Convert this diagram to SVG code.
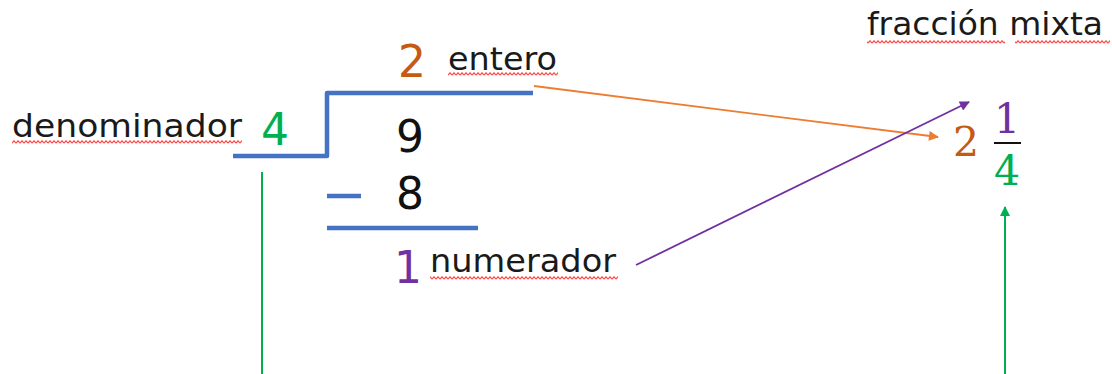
<svg xmlns="http://www.w3.org/2000/svg" width="1112" height="374" viewBox="0 0 1112 374">
  <style>
    .word { font-family: "DejaVu Sans", "Liberation Sans", sans-serif; font-size: 32px; fill: #1a1a1a; }
    .num { font-family: "DejaVu Sans", "Liberation Sans", sans-serif; font-size: 44px; }
    .frac { font-family: "DejaVu Serif", "Liberation Serif", serif; font-size: 41px; }
    .rule { stroke: #4472C4; stroke-width: 4.5; fill: none; stroke-linejoin: round; }
    .squiggle { fill: url(#wave); }
    .green { fill: #00B050; }
    .orange { fill: #C55A11; }
    .purple { fill: #7030A0; }
  </style>
  <defs>
    <pattern id="wave" width="4" height="4" patternUnits="userSpaceOnUse">
      <path d="M0 3.2 L2 0.8 L4 3.2" fill="none" stroke="#FF4848" stroke-width="1.2"/>
    </pattern>
    <marker id="head-orange" viewBox="0 0 10 10" refX="9" refY="5" markerWidth="12" markerHeight="10" markerUnits="userSpaceOnUse" orient="auto">
      <path d="M0 0 L10 5 L0 10 Z" fill="#ED7D31"/>
    </marker>
    <marker id="head-purple" viewBox="0 0 10 10" refX="9" refY="5" markerWidth="12" markerHeight="10" markerUnits="userSpaceOnUse" orient="auto">
      <path d="M0 0 L10 5 L0 10 Z" fill="#7030A0"/>
    </marker>
    <marker id="head-green" viewBox="0 0 10 10" refX="9" refY="5" markerWidth="12" markerHeight="10" markerUnits="userSpaceOnUse" orient="auto">
      <path d="M0 0 L10 5 L0 10 Z" fill="#00B050"/>
    </marker>
  </defs>

  <!-- long division frame -->
  <g id="division">
    <polyline class="rule" points="233,156 327,156 327,93 533,93"/>
    <line class="rule" x1="327" y1="196" x2="361" y2="196"/>
    <line class="rule" x1="327" y1="228" x2="478" y2="228"/>
    <text class="num" x="396" y="152" fill="#111">9</text>
    <text class="num" x="396" y="209" fill="#111">8</text>
  </g>

  <g id="denominador">
    <text class="word" x="12" y="137" textLength="230" lengthAdjust="spacingAndGlyphs">denominador</text>
    <rect class="squiggle" x="12" y="140" width="230" height="4"/>
    <text class="num green" x="261" y="145">4</text>
  </g>

  <g id="entero">
    <text class="num orange" x="398" y="77">2</text>
    <text class="word" x="448" y="70" textLength="109" lengthAdjust="spacingAndGlyphs">entero</text>
    <rect class="squiggle" x="448" y="72" width="110" height="4"/>
  </g>

  <g id="numerador">
    <text class="num purple" x="394" y="283">1</text>
    <text class="word" x="430" y="272" textLength="186" lengthAdjust="spacingAndGlyphs">numerador</text>
    <rect class="squiggle" x="430" y="276" width="188" height="4"/>
  </g>

  <g id="fraccion-mixta">
    <text class="word" x="867" y="35" textLength="236" lengthAdjust="spacingAndGlyphs">fracción mixta</text>
    <rect class="squiggle" x="867" y="40" width="138" height="4"/>
    <rect class="squiggle" x="1015" y="40" width="95" height="4"/>
    <text class="frac orange" x="953" y="156">2</text>
    <text class="frac purple" x="1007" y="133" text-anchor="middle">1</text>
    <line x1="994" y1="143" x2="1021" y2="143" stroke="#111" stroke-width="2"/>
    <text class="frac green" x="1007" y="185" text-anchor="middle">4</text>
  </g>

  <!-- connectors -->
  <g id="connectors" fill="none">
    <line x1="534" y1="86" x2="938" y2="137" stroke="#ED7D31" stroke-width="1.8" marker-end="url(#head-orange)"/>
    <line x1="636" y1="265" x2="969" y2="102" stroke="#7030A0" stroke-width="1.8" marker-end="url(#head-purple)"/>
    <line x1="262" y1="172" x2="262" y2="374" stroke="#00B050" stroke-width="2"/>
    <line x1="1005" y1="374" x2="1005" y2="207" stroke="#00B050" stroke-width="2" marker-end="url(#head-green)"/>
  </g>
</svg>
